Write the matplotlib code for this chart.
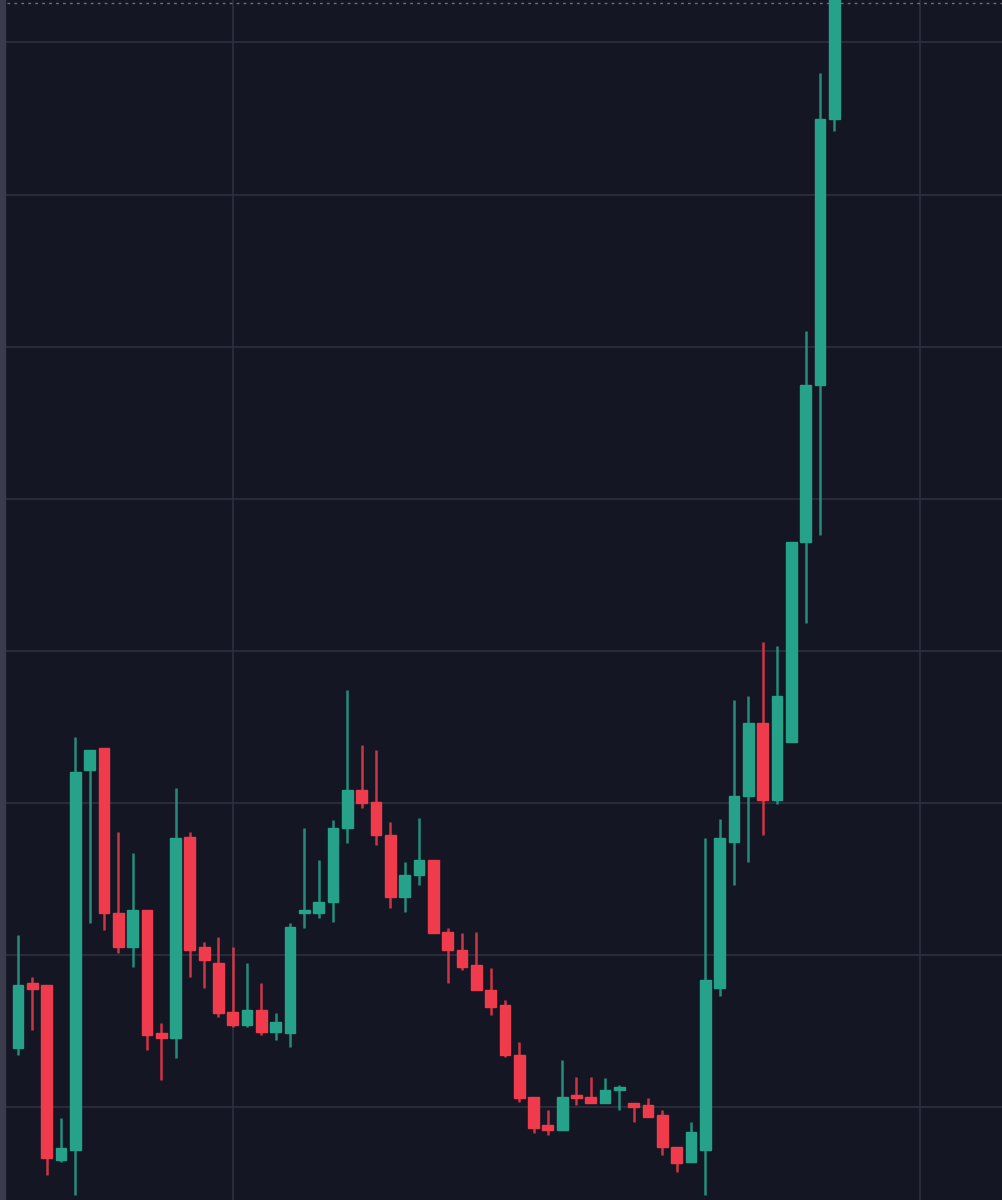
import matplotlib
matplotlib.use("Agg")
import matplotlib.pyplot as plt
from matplotlib.patches import Rectangle

# price values (arbitrary units)
opens  = [152,217,215,40,50,430,452,287,253,290,167,162,363,253,237,188,175,190,168,167,287,287,298,372,410,398,365,303,325,340,268,250,235,210,195,145,103,75,70,105,103,97,110,97,95,85,53,38,50,212,358,404,477,400,458,658,815,1081]
highs  = [265,223,210,82,463,450,450,368,347,290,177,412,368,258,263,253,237,217,187,277,372,340,380,510,455,450,378,338,382,340,272,267,268,232,200,158,90,90,140,123,123,122,115,97,102,90,45,78,362,381,500,504,558,554,473,869,1127,1215]
lows   = [145,170,25,38,5,277,270,247,233,150,120,142,223,212,183,173,173,165,160,153,272,282,278,357,392,355,292,288,315,267,217,230,210,185,143,98,67,65,70,95,97,97,90,78,83,45,28,38,5,204,315,338,365,396,473,577,665,1069]
closes = [215,211,42,52,428,450,287,253,290,165,162,362,250,240,187,175,190,168,178,273,287,298,372,410,397,365,303,325,340,267,250,233,210,193,145,102,72,70,103,102,97,110,110,93,83,53,37,68,220,362,404,477,400,504,658,815,1081,1220]

BG = "#151624"
GREEN = "#26a28a"
RED = "#ef3b4c"
GRID = "#2e3040"

fig = plt.figure(figsize=(10.02, 12.0), dpi=100, facecolor=BG)
ax = fig.add_axes([0, 0, 1, 1])
ax.set_facecolor(BG)

step = 14.32
ax.set_xlim(-18 / step, (1002 - 18) / step)
ax.set_ylim(0, 1200)

for y in [1158, 1005, 853, 701, 549, 397, 245, 93]:
    ax.axhline(y, color=GRID, lw=1.2, zorder=0)
for x in [233, 920]:
    ax.axvline((x - 18) / step, color=GRID, lw=1.2, zorder=0)
ax.axhline(1197, color="#6b6e7d", lw=1, ls=(0, (2, 3)), zorder=0)
ax.axvline(-16 / step, color="#3a3c4c", lw=6, zorder=0)

w = 0.75
for i, (o, h, l, c) in enumerate(zip(opens, highs, lows, closes)):
    col = GREEN if c >= o else RED
    ax.vlines(i, l, h, color=col, lw=1.8, alpha=0.85, zorder=2)
    lo, hi = min(o, c), max(o, c)
    ax.add_patch(Rectangle((i - w / 2, lo), w, max(hi - lo, 3), facecolor=col, edgecolor=col, zorder=3))

for s in ax.spines.values():
    s.set_visible(False)
ax.set_xticks([])
ax.set_yticks([])
fig.savefig("out.png", dpi=100, facecolor=BG)
